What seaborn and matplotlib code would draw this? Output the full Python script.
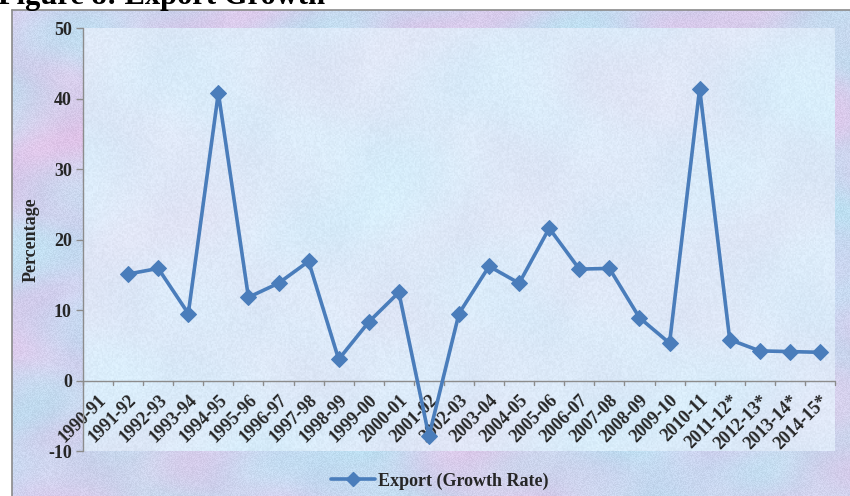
import numpy as np
import pandas as pd
import matplotlib
matplotlib.use("Agg")
import matplotlib.pyplot as plt
from matplotlib.patches import Rectangle
from matplotlib.lines import Line2D
import seaborn as sns

# ---- data -------------------------------------------------------------
years = ["1990-91", "1991-92", "1992-93", "1993-94", "1994-95", "1995-96",
         "1996-97", "1997-98", "1998-99", "1999-00", "2000-01", "2001-02",
         "2002-03", "2003-04", "2004-05", "2005-06", "2006-07", "2007-08",
         "2008-09", "2009-10", "2010-11", "2011-12*", "2012-13*", "2013-14*",
         "2014-15*"]
growth = [np.nan, 15.1, 15.9, 9.5, 40.8, 11.8, 13.8, 16.9, 3.0, 8.3, 12.5,
          -7.9, 9.5, 16.2, 13.8, 21.6, 15.8, 15.9, 8.9, 5.3, 41.4, 5.8,
          4.2, 4.1, 4.0]
y_ticks = [-10, 0, 10, 20, 30, 40, 50]

df = pd.DataFrame({"pos": np.arange(len(years)), "year": years, "growth": growth})
df = df.dropna()

# ---- styling ----------------------------------------------------------
sns.set_theme(style="white")
plt.rcParams["font.family"] = ["Liberation Serif", "DejaVu Serif"]
plt.rcParams["font.weight"] = "bold"

W, H, DPI = 850, 496, 100
fig = plt.figure(figsize=(W / DPI, H / DPI), dpi=DPI)
fig.patch.set_facecolor("white")


def marble(h, w, base, tints, scale=1.0):
    """Soft marbled texture built from layered sinusoids."""
    yy, xx = np.mgrid[0:h, 0:w].astype(float)
    f1 = np.sin(xx / 37.0 + np.sin(yy / 23.0) * 2.1) + np.cos(yy / 29.0 + np.sin(xx / 41.0) * 1.7)
    f2 = np.sin((xx + yy) / 19.0 + np.cos(xx / 13.0)) * 0.6 + np.cos((xx - yy) / 17.0) * 0.5
    f3 = np.sin(xx / 61.0 - yy / 47.0) + np.cos(xx / 53.0 + yy / 71.0)
    grain = np.modf(np.abs(np.sin(xx * 12.9898 + yy * 78.233) * 43758.5453))[0] - 0.5
    img = np.ones((h, w, 3)) * np.array(base)
    a = (f1 / 2.0 + 1) / 2
    b = (f3 / 2.0 + 1) / 2
    img += (a[..., None] - 0.5) * np.array(tints[0]) * scale
    img += (b[..., None] - 0.5) * np.array(tints[1]) * scale
    img += (f2[..., None] * 0.5) * np.array([6, 6, 4]) * scale
    img += grain[..., None] * 16 * scale
    return np.clip(img / 255.0, 0, 1)


# outer chart area texture
bg = fig.add_axes([0, 0, 1, 1], zorder=-10)
bg.axis("off")
outer = marble(H, W, (205, 212, 238), [(24, -18, -4), (-16, 12, 6)])
bg.imshow(outer, extent=[0, W, 0, H], origin="upper", aspect="auto")
bg.set_xlim(0, W)
bg.set_ylim(0, H)
# white margins above and left of the chart frame
bg.add_patch(Rectangle((0, H - 10), W, 10, facecolor="white", edgecolor="none"))
bg.add_patch(Rectangle((0, 0), 12, H, facecolor="white", edgecolor="none"))
bg.plot([12, 12], [0, H - 10], color="#8a8a8a", lw=1.2)
bg.plot([12, W], [H - 10, H - 10], color="#8a8a8a", lw=1.2)

# figure caption (runs off the top edge)
fig.text(-0.002, 1 - 4 / H, "Figure 8: Export Growth", fontsize=22,
         fontweight="bold", ha="left", va="baseline", color="black")

# ---- plot area ----------------------------------------------------------
left, right, top, bottom = 83, 835, 28, 451
ax = fig.add_axes([left / W, 1 - bottom / H, (right - left) / W, (bottom - top) / H])
ax.patch.set_alpha(0)
inner = marble(300, 600, (220, 233, 248), [(8, -6, -4), (-6, 4, 2)], scale=0.8)
ax.imshow(inner, extent=[0, 1, 0, 1], transform=ax.transAxes,
          aspect="auto", zorder=0)

line_color = "#4a7dbb"
sns.lineplot(data=df, x="pos", y="growth", ax=ax, color=line_color,
             linewidth=2.6, marker="D", markersize=8.5,
             markeredgecolor=line_color, zorder=3, legend=False)

ax.set_xlim(-0.5, len(years) - 0.5)
ax.set_ylim(-10, 50)
ax.set_yticks(y_ticks)
ax.set_yticklabels([str(t) for t in y_ticks], fontsize=13, fontweight="bold")
ax.set_xticks(np.arange(len(years)))
ax.set_xticklabels(years, rotation=45, ha="right", va="top",
                   rotation_mode="anchor", fontsize=13, fontweight="bold")
ax.set_xlabel("")
ax.set_ylabel("Percentage", fontsize=13, fontweight="bold", labelpad=6)

for s in ["top", "right", "bottom"]:
    ax.spines[s].set_visible(False)
ax.spines["left"].set_color("#8c8c8c")
ax.spines["left"].set_linewidth(1.0)

# category axis drawn at zero with ticks between categories
ax.axhline(0, color="#8c8c8c", lw=1.0, zorder=2)
for b in np.arange(-0.5, len(years), 1.0):
    ax.plot([b, b], [-0.7, 0.0], color="#8c8c8c", lw=1.0, zorder=2, clip_on=False)
ax.tick_params(axis="x", length=0, pad=2)
ax.tick_params(axis="y", direction="out", length=5, width=1, color="#8c8c8c",
               left=True, pad=3)
# move category labels up to sit just below the zero line
offset = matplotlib.transforms.ScaledTranslation(0, 62 / DPI, fig.dpi_scale_trans)
for lab in ax.get_xticklabels():
    lab.set_transform(lab.get_transform() + offset)

# ---- legend -------------------------------------------------------------
handle = Line2D([], [], color=line_color, lw=2.6, marker="D", markersize=7)
fig.legend([handle], ["Export (Growth Rate)"], loc="center",
           bbox_to_anchor=(440 / W, 1 - 481 / H), frameon=False,
           prop={"size": 13, "weight": "bold"}, handlelength=2.4,
           handletextpad=0.2)

fig.savefig("out.png", dpi=DPI)
